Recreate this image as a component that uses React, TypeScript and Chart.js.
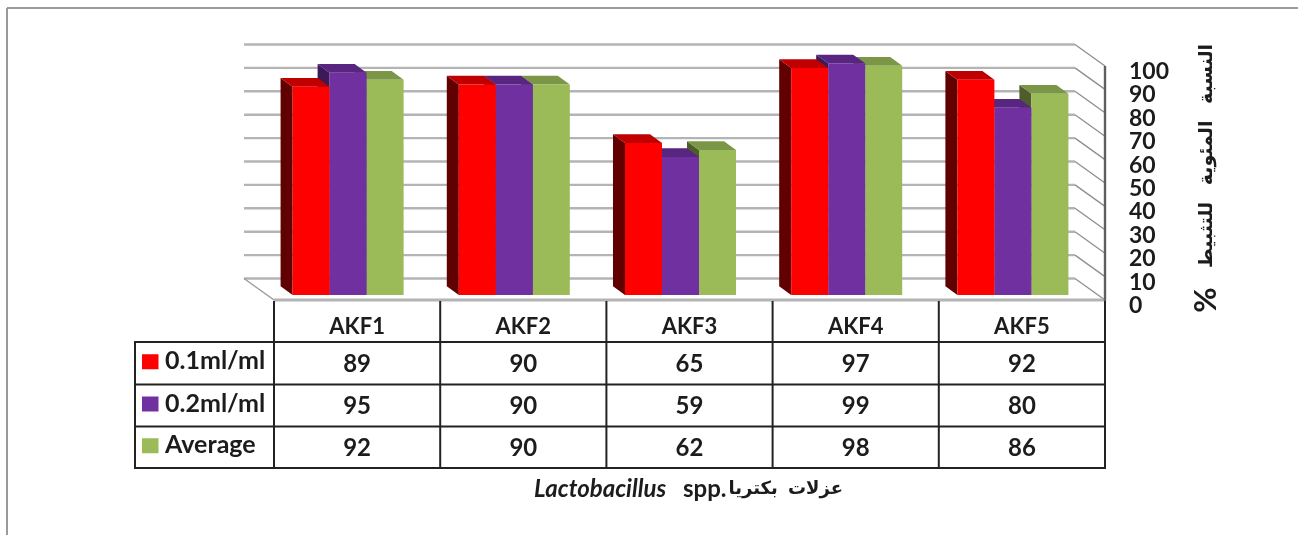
import React, { useEffect, useRef } from "react";
import { Chart, registerables } from "chart.js";

Chart.register(...registerables);

// Inhibition percentages per isolate and concentration
const isolates = ["AKF1", "AKF2", "AKF3", "AKF4", "AKF5"];
const seriesNames = ["0.1ml/ml", "0.2ml/ml", "Average"];
const lowDose = [89, 90, 65, 97, 92];
const highDose = [95, 90, 59, 99, 80];
const average = [92, 90, 62, 98, 86];

const frontColors = ["#FF0000", "#7030A0", "#9BBB59"];
const topColors = ["#C00000", "#582580", "#7C9647"];
const sideColors = ["#600000", "#3C1A58", "#4D5D2C"];

const yTitle = "النسبة المئوية للتثبيط";
const captionGenus = "Lactobacillus";
const captionSpp = "spp.";
const captionArabic = "عزلات بكتريا";

const LATO = "Lato, Carlito, sans-serif";
const ARABIC = '"DejaVu Sans", sans-serif';
const INK = "#1c1c1c";

// Oblique projection used for the pseudo-3D look
const WALL_DX = -30;
const WALL_DY = -21.5;
const BAR_SHIFT_X = -9;
const BAR_SHIFT_Y = -5;
const BAR_DX = -12;
const BAR_DY = -8.7;

const TABLE_LEFT = 135;
const ROW_LINES = [342, 384.5, 426.5, 468];

const line = (c: CanvasRenderingContext2D, x1: number, y1: number, x2: number, y2: number) => {
  c.beginPath();
  c.moveTo(x1, y1);
  c.lineTo(x2, y2);
  c.stroke();
};

const fillPoly = (c: CanvasRenderingContext2D, color: string, pts: number[][]) => {
  c.fillStyle = color;
  c.beginPath();
  pts.forEach(([x, y], i) => (i ? c.lineTo(x, y) : c.moveTo(x, y)));
  c.closePath();
  c.fill();
};

const scenePlugin = {
  id: "scene3d",
  beforeDraw(chart: any) {
    const { ctx: c, chartArea: a, scales } = chart;
    const y = scales.y;
    c.save();

    // Outer frame of the figure
    c.strokeStyle = "#9a9a9a";
    c.lineWidth = 2;
    line(c, 7, 535, 7, 8);
    line(c, 7, 8, 1298, 8);

    // Back wall and right wall gridlines
    y.ticks.forEach((t: any) => {
      const py = y.getPixelForValue(t.value);
      c.strokeStyle = "#b4b4b4";
      c.lineWidth = 2.4;
      line(c, a.left + WALL_DX, py + WALL_DY, a.right + WALL_DX, py + WALL_DY);
      c.strokeStyle = "#8e8e8e";
      c.lineWidth = 1.3;
      line(c, a.right + WALL_DX, py + WALL_DY, a.right, py);
    });

    // Floor edges and value axis line
    c.strokeStyle = "#9a9a9a";
    c.lineWidth = 1.4;
    line(c, a.left + WALL_DX, a.bottom + WALL_DY, a.left, a.bottom);
    c.strokeStyle = "#b4b4b4";
    c.lineWidth = 3;
    line(c, a.left, a.bottom, a.right, a.bottom);
    c.strokeStyle = "#5f5f5f";
    c.lineWidth = 2.4;
    line(c, a.right, a.top, a.right, a.bottom + 1);
    c.restore();
  },
  beforeDatasetsDraw(chart: any) {
    chart.ctx.save();
    chart.ctx.translate(BAR_SHIFT_X, BAR_SHIFT_Y);
  },
  beforeDatasetDraw(chart: any, args: any) {
    const c = chart.ctx;
    const i = args.index;
    args.meta.data.forEach((bar: any) => {
      const { x, y, base, width } = bar.getProps(["x", "y", "base", "width"], true);
      const l = x - width / 2;
      const r = x + width / 2;
      fillPoly(c, sideColors[i], [
        [l, y],
        [l + BAR_DX, y + BAR_DY],
        [l + BAR_DX, base + BAR_DY],
        [l, base],
      ]);
      fillPoly(c, topColors[i], [
        [l, y],
        [l + BAR_DX, y + BAR_DY],
        [r + BAR_DX, y + BAR_DY],
        [r, y],
      ]);
    });
  },
  afterDatasetsDraw(chart: any) {
    chart.ctx.restore();
    const { ctx: c, chartArea: a, data } = chart;
    const cell = a.width / isolates.length;
    c.save();

    // Data table grid
    c.strokeStyle = "#222222";
    c.lineWidth = 2;
    ROW_LINES.forEach((ly) => line(c, TABLE_LEFT, ly, a.right, ly));
    line(c, TABLE_LEFT, ROW_LINES[0] - 1, TABLE_LEFT, ROW_LINES[3] + 1);
    for (let k = 0; k <= isolates.length; k++) {
      const lx = a.left + cell * k;
      line(c, lx, a.bottom + 1, lx, ROW_LINES[3] + 1);
    }

    // Table rows: colour key, series name, values
    c.textBaseline = "middle";
    data.datasets.forEach((ds: any, r: number) => {
      const mid = (ROW_LINES[r] + ROW_LINES[r + 1]) / 2;
      c.fillStyle = frontColors[r];
      c.fillRect(142, mid - 9, 16.5, 15);
      c.fillStyle = INK;
      c.font = `bold 25px ${LATO}`;
      c.textAlign = "left";
      c.fillText(ds.label, 165, mid - 2);
      c.font = `bold 24px ${LATO}`;
      c.textAlign = "center";
      ds.data.forEach((v: number, k: number) => {
        c.fillText(String(v), a.left + cell * (k + 0.5), mid + 1);
      });
    });

    // Rotated value-axis title
    c.save();
    c.translate(1212, 156);
    c.rotate(-Math.PI / 2);
    c.direction = "rtl";
    c.textAlign = "center";
    c.textBaseline = "alphabetic";
    c.font = `bold 19px ${ARABIC}`;
    (c as any).wordSpacing = "10px";
    c.fillText(yTitle, 0, 0);
    c.restore();
    c.save();
    c.translate(1216, 300);
    c.rotate(-Math.PI / 2);
    c.textAlign = "center";
    c.textBaseline = "alphabetic";
    c.font = `bold 31px ${LATO}`;
    c.fillText("%", 0, 0);
    c.restore();

    // Category-axis caption
    c.save();
    c.textBaseline = "middle";
    c.textAlign = "left";
    c.font = `italic bold 24px ${LATO}`;
    c.fillText(captionGenus, 534, 489);
    c.font = `bold 24px ${LATO}`;
    c.fillText(captionSpp, 683, 489);
    c.font = `bold 18px ${ARABIC}`;
    c.textAlign = "right";
    c.direction = "rtl";
    (c as any).wordSpacing = "4px";
    c.fillText(captionArabic, 843, 489);
    c.restore();
    c.restore();
  },
};

export default function App() {
  const ref = useRef<HTMLCanvasElement | null>(null);

  useEffect(() => {
    if (!ref.current) return;
    const values = [lowDose, highDose, average];
    const chart = new Chart(ref.current, {
      type: "bar",
      data: {
        labels: isolates,
        datasets: values.map((d, i) => ({
          label: seriesNames[i],
          data: d,
          backgroundColor: frontColors[i],
          borderWidth: 0,
          clip: false as any,
          categoryPercentage: 0.668,
          barPercentage: 1,
        })),
      },
      plugins: [scenePlugin],
      options: {
        responsive: false,
        animation: false,
        layout: { padding: { left: 274, top: 66, right: 0, bottom: 0 } },
        plugins: { legend: { display: false }, tooltip: { enabled: false } },
        scales: {
          x: {
            grid: { display: false, drawTicks: false },
            border: { display: false },
            ticks: {
              padding: 14,
              maxRotation: 0,
              color: INK,
              font: { family: LATO, size: 22, weight: "bold" },
            },
            afterFit: (s: any) => {
              s.height = 235;
            },
          },
          y: {
            position: "right",
            min: 0,
            max: 100,
            grid: { display: false, drawTicks: false },
            border: { display: false },
            ticks: {
              stepSize: 10,
              autoSkip: false,
              padding: 24,
              labelOffset: 5.5,
              color: INK,
              font: { family: LATO, size: 23, weight: "bold" },
            },
            afterFit: (s: any) => {
              s.width = 193;
            },
          },
        },
      },
    });
    return () => chart.destroy();
  }, []);

  return (
    <div style={{ position: "absolute", left: 0, top: 0 }}>
      <canvas ref={ref} width={1298} height={535} style={{ display: "block" }} />
    </div>
  );
}
